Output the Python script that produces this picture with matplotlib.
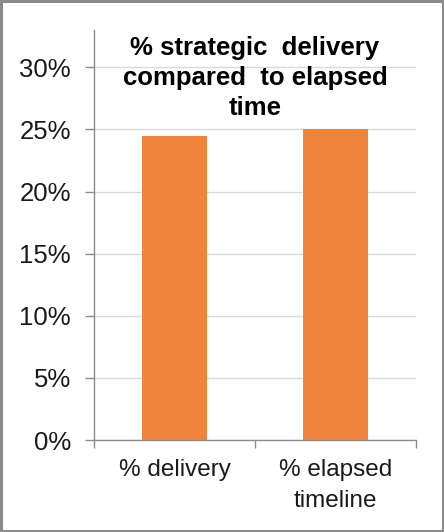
import matplotlib
matplotlib.use("Agg")
import matplotlib.pyplot as plt
from matplotlib.patches import Rectangle
from matplotlib.ticker import PercentFormatter

categories = ["% delivery", "% elapsed\ntimeline"]
values = [0.245, 0.25]
yticks = [0.0, 0.05, 0.10, 0.15, 0.20, 0.25, 0.30]

plt.rcParams["font.family"] = ["Liberation Sans", "DejaVu Sans"]

fig = plt.figure(figsize=(4.44, 5.32), dpi=100, facecolor="white")
ax = fig.add_axes([0.2117, 0.1729, 0.7253, 0.7707])

AXIS = "#8c8c8c"
GRID = "#d9d9d9"
ORANGE = "#f0843a"

x = range(len(categories))
ax.bar(x, values, width=0.4, color=ORANGE, zorder=3)

ax.set_xlim(-0.5, 1.5)
ax.set_ylim(0, 0.33)
ax.set_yticks(yticks)
ax.yaxis.set_major_formatter(PercentFormatter(1.0, decimals=0))
ax.yaxis.grid(True, color=GRID, lw=1.0, zorder=0)

# x ticks sit on the category boundaries, labels centred under the bars
ax.set_xticks([-0.5, 0.5, 1.5])
ax.set_xticklabels([])
ax.set_xticks(list(x), minor=True)
ax.set_xticklabels(categories, minor=True, fontsize=17.5, color="#1a1a1a",
                   linespacing=1.5, va="top")
ax.tick_params(axis="x", which="major", length=6, color=AXIS, width=1)
ax.tick_params(axis="x", which="minor", length=0, pad=14)
ax.tick_params(axis="y", length=6.5, color=AXIS, width=1, labelsize=18.5,
               labelcolor="#1a1a1a", pad=10)

for side in ["top", "right"]:
    ax.spines[side].set_visible(False)
for side in ["left", "bottom"]:
    ax.spines[side].set_color(AXIS)
    ax.spines[side].set_linewidth(1.0)

ax.text(0.5, 0.985, "% strategic  delivery\ncompared  to elapsed\ntime",
        transform=ax.transAxes, ha="center", va="top", fontsize=18.5,
        fontweight="bold", color="black", linespacing=1.3, zorder=5)

# thin grey frame round the whole chart
fig.patches.append(Rectangle((0.002, 0.002), 0.996, 0.996, transform=fig.transFigure,
                             fill=False, edgecolor="#8a8a8a", lw=2.2))

fig.savefig("out.png", dpi=100, facecolor=fig.get_facecolor())
